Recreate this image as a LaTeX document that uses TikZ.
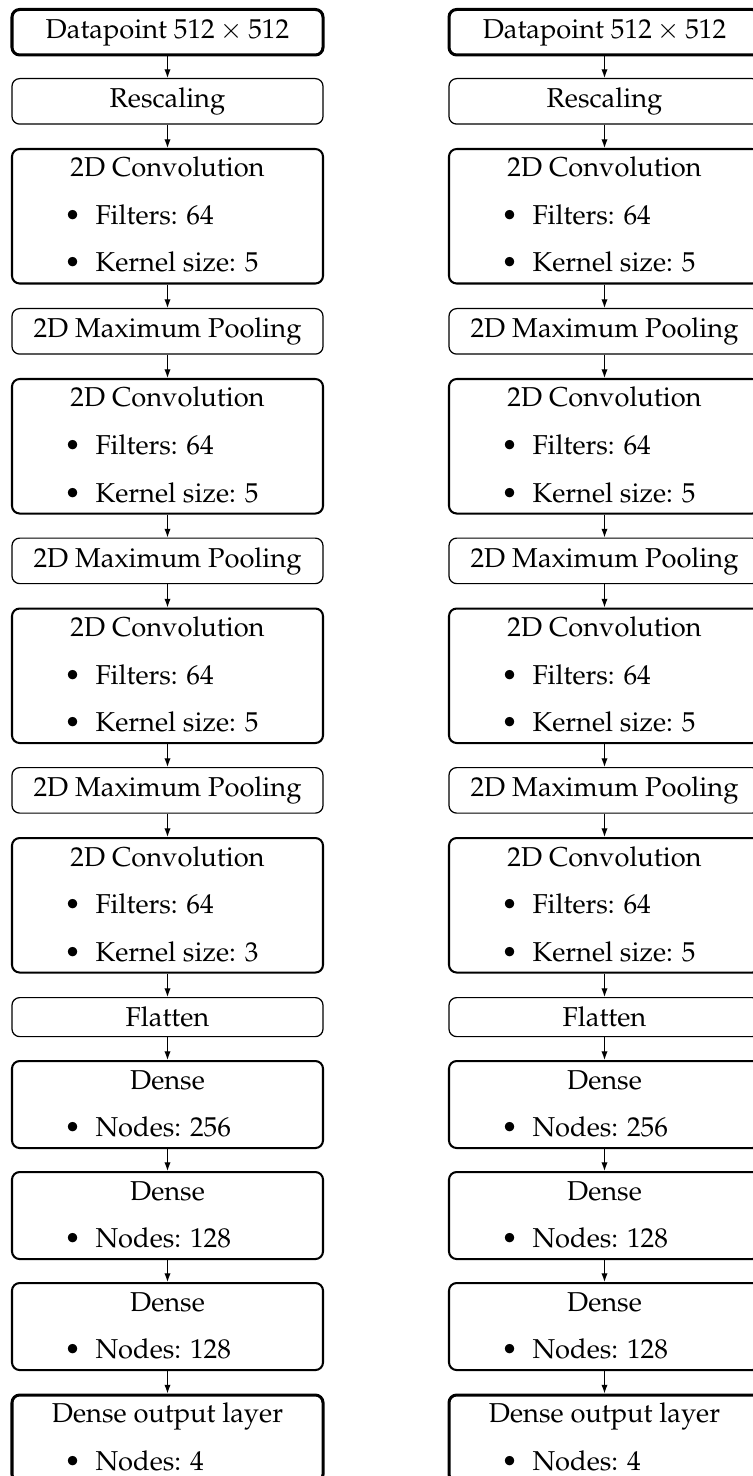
\documentclass[tikz,border=0pt]{standalone}
\usepackage[T1]{fontenc}
\usepackage{mathpazo}
\usetikzlibrary{arrows.meta}
\newdimen\PX \PX=0.3663pt
\newcommand\bul{\llap{\makebox[0pt][c]{\textbullet}\hspace{23\PX}}}
\newcommand\colsp{\hspace{0.32em}}
\tikzset{
  box/.style={draw, rounded corners=2.8pt, minimum width=311*\PX, inner xsep=0pt,
    inner ysep=10*\PX, text height=19*\PX, text depth=6.5*\PX, anchor=north},
  boxthick/.style={box, line width=1.1pt},
  boxmed/.style={box, line width=0.75pt},
  boxthin/.style={box, line width=0.45pt},
  flatbox/.style={text depth=0pt},
  txt/.style={inner sep=0pt, anchor=base},
  itm/.style={inner sep=0pt, anchor=base west},
  arr/.style={line width=0.4pt, -{Latex[length=3.2pt,width=2.3pt]}}
}
% name, x, top, kernel
\newcommand\convbox[4]{%
  \node[boxmed, minimum height=134.5*\PX] (#1) at (#2,#3) {};
  \node[txt] (#1h) at (#2,#3+29) {2D Convolution};
  \node[itm] (#1i) at (#2-72.5,#3+76.5) {\bul Filters:\colsp 64};
  \node[itm] (#1j) at (#2-72.5,#3+124) {\bul Kernel size:\colsp #4};
}
% style, name, x, top, heading, item
\newcommand\densebox[6]{%
  \node[#1, minimum height=87*\PX] (#2) at (#3,#4) {};
  \node[txt] (#2h) at (#3,#4+29) {#5};
  \node[itm] (#2i) at (#3-72.5,#4+76.5) {\bul Nodes:\colsp #6};
}
% prefix, x, last kernel
\newcommand\netcol[3]{%
  \node[boxthick] (#1a) at (#2,8) {Datapoint $512\times512$};
  \node[boxthin] (#1b) at (#2,78) {Rescaling};
  \convbox{#1c}{#2}{148}{5}
  \node[boxthin] (#1d) at (#2,308) {2D Maximum Pooling};
  \convbox{#1e}{#2}{378}{5}
  \node[boxthin] (#1f) at (#2,537.5) {2D Maximum Pooling};
  \convbox{#1g}{#2}{607.5}{5}
  \node[boxthin] (#1h) at (#2,767) {2D Maximum Pooling};
  \convbox{#1k}{#2}{837}{#3}
  \node[boxthin, flatbox] (#1l) at (#2,997) {Flatten};
  \densebox{boxmed}{#1m}{#2}{1060}{Dense}{256}
  \densebox{boxmed}{#1n}{#2}{1171}{Dense}{128}
  \densebox{boxmed}{#1o}{#2}{1282}{Dense}{128}
  \densebox{boxthick}{#1p}{#2}{1393.5}{Dense output layer}{4}
  \foreach \u/\v in {a/b,b/c,c/d,d/e,e/f,f/g,g/h,h/k,k/l,l/m,m/n,n/o,o/p}
    \draw[arr] (#1\u.south) -- (#1\v.north);
}
\begin{document}
\begin{tikzpicture}[x=\PX, y=-\PX]
  \useasboundingbox (0,0) rectangle (752,1476);
  \fill[white] (0,0) rectangle (752,1476);
  \netcol{L}{167.5}{3}
  \netcol{R}{604.5}{5}
\end{tikzpicture}
\end{document}
